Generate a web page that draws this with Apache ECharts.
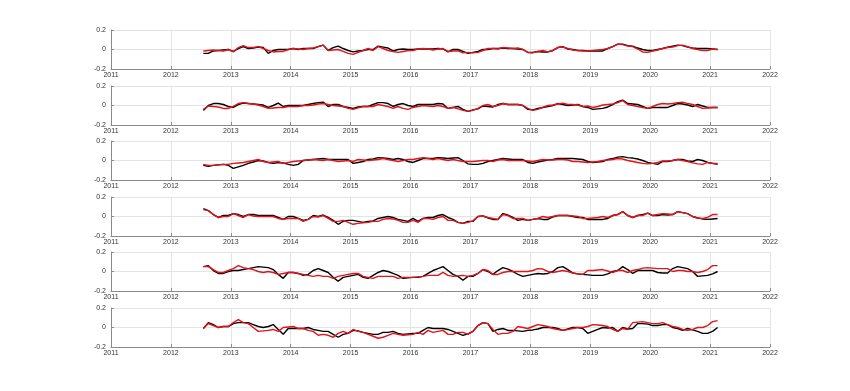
<!DOCTYPE html>
<html><head><meta charset="utf-8">
<script src="https://cdn.jsdelivr.net/npm/echarts@6/dist/echarts.min.js"></script>
<style>html,body{margin:0;padding:0;background:#fff}#c{width:850px;height:391px}</style>
</head><body><div id="c"></div>
<script>
// monthly samples, July 2012 .. Feb 2021
const startYear = 2012, startMonth = 7;
const xMin = 2011, xMax = 2022;
const yMin = -0.2, yMax = 0.2;

const k1 = [-0.04,-0.04,-0.015,-0.01,-0.005,0,
 -0.02,0.01,0.03,0.01,0.015,0.025,0.02,-0.04,-0.01,0,0,0,
 0.01,0,0.01,0.01,0.01,0.03,0.045,-0.01,0.02,0.035,0.01,-0.01,
 -0.025,-0.015,-0.01,0,0,0.035,0.025,0.015,-0.015,0,0.005,0,
 0,0.005,0.005,0.005,0.005,0.01,0.005,-0.025,0,0,-0.02,-0.04,
 -0.03,-0.02,0,0,0.01,0.01,0.015,0.01,0.01,0.005,0,-0.03,
 -0.03,-0.02,-0.025,-0.025,-0.01,0.02,0.03,0.005,0,-0.01,-0.01,-0.015,
 -0.015,-0.015,-0.015,0.01,0.03,0.055,0.055,0.04,0.035,0.015,0,-0.01,
 -0.01,0,0.01,0.025,0.035,0.045,0.04,0.025,0.015,0.01,0.01,0.01,
 0.005,0];
const r1 = [-0.015,-0.01,-0.005,-0.01,-0.015,0,
 -0.025,0.02,0.04,0.02,0.02,0.03,0.01,-0.01,-0.025,-0.02,-0.02,0,
 0.01,0.005,0,0.01,0.015,0.03,0.045,-0.01,-0.005,0,-0.02,-0.04,
 -0.05,-0.03,-0.01,0.01,-0.01,0.03,0.01,-0.01,-0.02,-0.03,-0.02,-0.01,
 -0.01,0.005,0.01,0.005,-0.005,0.005,0.01,-0.02,-0.015,-0.015,-0.035,-0.03,
 -0.035,-0.03,-0.01,0.01,0.01,0.005,0.02,0.015,0.01,0.015,0,-0.03,
 -0.035,-0.02,-0.01,-0.025,-0.01,0.02,0.025,0.01,-0.005,-0.01,-0.015,-0.015,
 -0.01,-0.005,0,0.01,0.03,0.055,0.05,0.035,0.03,0.005,-0.025,-0.03,
 -0.015,-0.005,0.01,0.02,0.025,0.04,0.045,0.03,0.01,0,-0.01,-0.01,
 0.005,0];

const k2 = [-0.05,0,0.02,0.02,0.01,-0.01,
 -0.02,0.01,0.025,0.02,0.015,0.01,0.005,-0.02,0,0.025,-0.01,0,
 0,0,0,0.01,0.02,0.03,0.035,-0.01,0.01,0.01,-0.01,-0.02,
 -0.03,-0.015,-0.01,-0.01,0.01,0.03,0.03,0.02,-0.01,0.01,0.02,0,
 -0.01,0.01,0.01,0.01,0.01,0.02,0.015,-0.03,-0.02,-0.01,-0.04,-0.06,
 -0.045,-0.035,-0.005,-0.01,-0.015,0.01,0.02,0.01,0.01,0.01,0,-0.04,
 -0.045,-0.03,-0.02,-0.01,0,0.02,0.01,0,0.005,0.01,-0.01,-0.02,
 -0.04,-0.035,-0.03,-0.015,0.01,0.04,0.055,0.02,0.015,0.01,-0.01,-0.03,
 -0.02,-0.02,-0.02,-0.02,0,0.02,0.015,0.005,-0.01,0.01,-0.005,-0.02,
 -0.02,-0.02];
const r2 = [-0.04,-0.005,-0.01,-0.015,-0.03,-0.03,
 -0.01,0.02,0.03,0.02,0.015,0.005,-0.01,-0.03,-0.025,-0.02,-0.02,-0.01,
 -0.01,-0.01,0,0,0.005,0.015,0.02,0.01,0,-0.005,-0.01,-0.03,
 -0.04,-0.025,-0.01,-0.01,-0.01,0.01,0,-0.01,-0.03,-0.01,-0.03,-0.04,
 -0.02,-0.01,0,-0.005,-0.01,0,-0.01,-0.03,-0.02,-0.035,-0.05,-0.06,
 -0.05,-0.03,0,0.01,-0.01,0,0.02,0.01,0.01,0.01,0,-0.03,
 -0.05,-0.04,-0.02,0,0.005,0.015,0.025,0.01,0.01,0.005,-0.01,-0.005,
 -0.02,-0.01,0.005,0.01,0.015,0.03,0.05,0.01,0,-0.01,-0.02,-0.03,
 -0.01,0.01,0.02,0.015,0.02,0.03,0.035,0.02,0.01,-0.01,-0.03,-0.025,
 -0.02,-0.02];

const k3 = [-0.05,-0.06,-0.05,-0.045,-0.04,-0.05,
 -0.08,-0.065,-0.05,-0.03,-0.015,0,-0.005,-0.02,-0.03,-0.02,-0.025,-0.04,
 -0.05,-0.04,0,0.005,0.01,0.015,0.02,0.01,0.01,0.01,0.01,0.01,
 -0.03,-0.02,-0.01,0.01,0.015,0.03,0.025,0.02,0.01,0.02,0.01,-0.01,
 -0.02,0,0.02,0.02,0.02,0.03,0.025,0.02,0.025,0.03,0,-0.035,
 -0.04,-0.04,-0.03,-0.01,0,0.01,0.02,0.015,0.01,0.01,0.01,-0.02,
 -0.03,-0.015,-0.005,0.005,0.01,0.02,0.02,0.02,0.02,0.015,0.01,-0.01,
 -0.02,-0.015,-0.01,0.01,0.02,0.035,0.04,0.03,0.025,0.015,0,-0.02,
 -0.03,-0.04,-0.01,-0.01,0,0.01,0.01,-0.005,-0.01,0.01,0,-0.02,
 -0.03,-0.04];
const r3 = [-0.04,-0.05,-0.05,-0.045,-0.04,-0.04,
 -0.03,-0.025,-0.02,-0.01,0,0.01,-0.01,-0.02,-0.015,-0.01,-0.03,-0.02,
 -0.01,-0.005,0,0.005,0.01,0.005,0,0.01,0,-0.01,-0.005,0,
 -0.01,0.01,0.005,0,0.005,0.01,0.02,0.01,0,-0.01,0,0.01,
 0.01,0.02,0.03,0.02,0.01,0.02,0.01,0,0.01,0,-0.01,-0.01,
 -0.01,-0.005,0,0,-0.01,0.005,0.01,0,0,0,0,-0.005,
 -0.01,0,0.01,0.005,0.005,0.01,0.01,0.005,-0.01,-0.01,-0.015,-0.02,
 -0.015,-0.01,0,0.005,0.01,0.02,0.015,0,-0.01,-0.02,-0.03,-0.035,
 -0.03,-0.02,-0.005,-0.005,0,0.01,0,-0.01,-0.025,-0.035,-0.04,-0.02,
 -0.03,-0.03];

const k4 = [0.08,0.06,0.02,-0.01,0.01,0.01,
 0.03,0.02,0,0.02,0.02,0.01,0.01,0.01,0.01,-0.01,-0.03,0,
 0,-0.02,-0.04,-0.03,0.01,0,0.015,-0.01,-0.04,-0.08,-0.05,-0.04,
 -0.04,-0.05,-0.06,-0.05,-0.045,-0.02,-0.01,0,-0.01,-0.03,-0.04,-0.05,
 -0.02,-0.05,-0.02,-0.01,-0.01,0.01,0.02,-0.01,-0.03,-0.06,-0.07,-0.05,
 -0.05,0,0.005,-0.015,-0.03,-0.03,0.03,0.015,-0.01,-0.04,-0.03,-0.04,
 -0.03,-0.02,-0.03,-0.03,-0.005,0.01,0.01,0.01,0,-0.01,-0.01,-0.03,
 -0.03,-0.03,-0.03,-0.02,0.01,0.02,0.05,0.01,-0.01,0.01,0.02,0.035,
 0.01,0.01,0.02,0.015,0.02,0.05,0.04,0.03,0,-0.015,-0.025,-0.03,
 -0.025,-0.02];
const r4 = [0.07,0.06,0.02,-0.01,0,0,
 0.03,0.01,-0.01,0.02,0.005,0,0,0,0,-0.02,-0.03,-0.02,
 -0.02,-0.02,-0.05,-0.03,0,-0.005,0.01,-0.02,-0.05,-0.05,-0.04,-0.06,
 -0.08,-0.07,-0.065,-0.06,-0.05,-0.05,-0.03,-0.02,-0.025,-0.04,-0.06,-0.06,
 -0.04,-0.06,-0.02,-0.02,-0.03,-0.01,0,-0.04,-0.04,-0.06,-0.07,-0.06,
 -0.045,0,0.005,-0.01,-0.02,-0.03,0.02,0.01,-0.02,-0.02,-0.02,-0.04,
 -0.03,-0.02,0,-0.01,0,0.01,0.01,0.01,0.005,0,-0.02,-0.02,
 -0.015,-0.01,0,-0.01,0.01,0.02,0.05,0.01,-0.01,0.01,0.01,0.035,
 0.01,0.02,0.03,0.025,0.02,0.05,0.04,0.03,0,-0.015,-0.02,-0.01,
 0.02,0.02];

const k5 = [0.05,0.06,0.01,-0.02,-0.02,0,
 0.01,0.01,0.02,0.03,0.04,0.05,0.045,0.04,0.02,-0.03,-0.07,-0.01,
 -0.01,-0.02,-0.04,-0.03,0.01,0.03,0.01,-0.01,-0.06,-0.1,-0.06,-0.05,
 -0.04,-0.03,-0.06,-0.07,-0.04,-0.01,0.01,0,-0.02,-0.04,-0.07,-0.065,
 -0.06,-0.06,-0.05,-0.02,0.01,0.03,0.05,0.01,-0.03,-0.05,-0.09,-0.05,
 -0.05,-0.02,0.02,0,-0.03,0.01,0.04,0.025,0,-0.03,-0.05,-0.04,
 -0.03,-0.02,-0.025,-0.02,0,0.04,0.05,0.02,-0.015,-0.025,-0.03,-0.035,
 -0.04,-0.04,-0.04,-0.025,0,0.01,0.05,0.02,-0.02,0.01,0.01,0.01,
 0.01,-0.01,-0.015,-0.015,0.03,0.05,0.04,0.03,0,-0.05,-0.045,-0.04,
 -0.025,0];
const r5 = [0.05,0.05,0.02,-0.01,-0.01,0.01,
 0.03,0.06,0.04,0.03,0.02,0,-0.01,0,-0.01,-0.03,-0.02,-0.01,
 -0.01,-0.02,-0.03,-0.04,-0.05,-0.04,-0.05,-0.05,-0.07,-0.05,-0.04,-0.03,
 -0.02,-0.02,-0.05,-0.06,-0.07,-0.05,-0.05,-0.05,-0.05,-0.07,-0.06,-0.06,
 -0.06,-0.055,-0.05,-0.04,-0.04,-0.04,-0.01,-0.04,-0.05,-0.045,-0.04,-0.05,
 -0.04,-0.02,0.02,0.01,-0.03,-0.03,-0.01,0,0,0,0,0,
 0.01,0.03,0.025,0,-0.01,0,0.01,0,-0.015,-0.025,-0.03,0.01,
 0.01,0.015,0.02,0.005,-0.01,0.01,0.01,-0.01,0.01,0.02,0.035,0.04,
 0.035,0.03,0.03,0.03,0,0.01,0.01,0,0,-0.01,0,0.02,
 0.06,0.06];

const k6 = [-0.01,0.05,0.03,0,0.01,0.01,
 0.04,0.05,0.05,0.05,0.03,0.01,0,0.01,0.03,-0.02,-0.07,-0.01,
 -0.01,-0.01,-0.01,0,-0.02,-0.03,-0.04,-0.04,-0.07,-0.1,-0.07,-0.06,
 -0.03,-0.035,-0.05,-0.06,-0.07,-0.07,-0.05,-0.05,-0.04,-0.06,-0.07,-0.065,
 -0.06,-0.06,-0.03,0,-0.01,-0.01,-0.01,-0.02,-0.04,-0.06,-0.08,-0.065,
 -0.04,0.02,0.05,0.04,-0.04,-0.02,-0.01,-0.03,-0.03,-0.035,-0.04,-0.03,
 -0.025,-0.015,0,0,0,-0.01,-0.03,-0.015,0,0,-0.01,-0.06,
 -0.04,-0.02,0,-0.005,0,-0.04,0,-0.015,-0.01,0.04,0.04,0.035,
 0.02,0.02,0.03,0.03,0,-0.01,-0.03,-0.01,-0.025,-0.04,-0.06,-0.06,
 -0.04,0];
const r6 = [-0.01,0.04,0.02,0,0.01,0.01,
 0.05,0.08,0.05,0.04,0,-0.04,-0.035,-0.03,-0.02,-0.04,0,0.005,
 0.01,-0.01,-0.01,-0.03,-0.04,-0.08,-0.07,-0.08,-0.1,-0.06,-0.04,-0.06,
 -0.02,-0.04,-0.05,-0.07,-0.09,-0.11,-0.1,-0.08,-0.06,-0.07,-0.08,-0.075,
 -0.07,-0.05,-0.07,-0.03,-0.05,-0.04,-0.03,-0.07,-0.07,-0.05,-0.05,-0.07,
 -0.04,0.02,0.05,0.04,-0.02,-0.07,-0.06,-0.06,-0.04,0.01,0,-0.01,
 0.01,0.03,0.02,0.01,-0.01,-0.02,-0.03,-0.02,-0.01,0,0,0.01,
 0.03,0.025,0.02,0.01,-0.02,-0.04,-0.01,-0.02,0.05,0.055,0.06,0.05,
 0.04,0.04,0.05,0.03,0.01,0,-0.02,-0.03,-0.02,0,0,0.02,
 0.06,0.07];

const blackSeries = [k1,k2,k3,k4,k5,k6];
const redSeries = [r1,r2,r3,r4,r5,r6];

// time stamps (decimal years, mid-month)
const times = k1.map((_, i) => startYear + (startMonth - 1 + i + 0.5) / 12);

const panelTops = [30, 86, 141, 197, 252, 308];
const panelH = 39;
const axisCol = '#8a8a8a', gridCol = '#e4e4e4', txtCol = '#333';

const grids = [], xAxes = [], yAxes = [], series = [];
panelTops.forEach((t, i) => {
  grids.push({left: 111, right: 80, top: t, height: panelH});
  xAxes.push({type: 'value', gridIndex: i, min: xMin, max: xMax, interval: 1,
    axisLine: {show: true, onZero: false, lineStyle: {color: axisCol, width: 1}},
    axisTick: {show: true, inside: true, length: 3, lineStyle: {color: axisCol}},
    axisLabel: {fontSize: 7, color: txtCol, margin: 3, fontFamily: 'Liberation Sans, Arial, sans-serif',
      formatter: v => String(v)},
    splitLine: {show: true, lineStyle: {color: gridCol, width: 1}}});
  yAxes.push({type: 'value', gridIndex: i, min: yMin, max: yMax, interval: 0.2,
    axisLine: {show: true, onZero: false, lineStyle: {color: axisCol, width: 1}},
    axisTick: {show: true, inside: true, length: 3, lineStyle: {color: axisCol}},
    axisLabel: {fontSize: 7, color: txtCol, margin: 5, fontFamily: 'Liberation Sans, Arial, sans-serif',
      formatter: v => Math.abs(v) < 1e-9 ? '0' : v.toFixed(1)},
    splitLine: {show: true, lineStyle: {color: gridCol, width: 1}}});
  series.push({type: 'line', xAxisIndex: i, yAxisIndex: i, showSymbol: false, animation: false,
    data: times.map((x, j) => [x, blackSeries[i][j]]),
    lineStyle: {color: '#000', width: 1.4}, itemStyle: {color: '#000'}});
  series.push({type: 'line', xAxisIndex: i, yAxisIndex: i, showSymbol: false, animation: false,
    data: times.map((x, j) => [x, redSeries[i][j]]),
    lineStyle: {color: '#e3131b', width: 1.4}, itemStyle: {color: '#e3131b'}});
});

const chart = echarts.init(document.getElementById('c'), null, {renderer: 'canvas'});
chart.setOption({animation: false, backgroundColor: '#fff', grid: grids, xAxis: xAxes, yAxis: yAxes, series});
</script></body></html>
